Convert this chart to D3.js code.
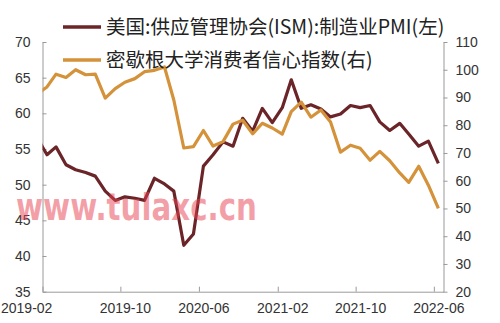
<!DOCTYPE html>
<html>
<head>
<meta charset="utf-8">
<script src="https://cdn.jsdelivr.net/npm/d3@7"></script>
<style>
  body { margin: 0; background: #fff; }
  svg { display: block; }
</style>
</head>
<body>
<svg id="chart"></svg>
<script>
// monthly values, Jan 2019 .. Jun 2022 (first month sits left of the axis start and gets clipped)
const firstMonth = '2019-01'
const ismPMI = [
  56.6, 54.2, 55.3, 52.8, 52.1, 51.7, 51.2, 49.1, 47.8, 48.3, 48.1, 47.8,
  50.9, 50.1, 49.1, 41.5, 43.1, 52.6, 54.2, 56.0, 55.4, 59.3, 57.5, 60.7,
  58.7, 60.8, 64.7, 60.7, 61.2, 60.6, 59.5, 59.9, 61.1, 60.8, 61.1, 58.8,
  57.6, 58.6, 57.1, 55.4, 56.1, 53.0
]
const michigan = [
  91.2, 93.8, 98.4, 97.2, 100.0, 98.2, 98.4, 89.8, 93.2, 95.5, 96.8, 99.3,
  99.8, 101.0, 89.1, 71.8, 72.3, 78.1, 72.5, 74.1, 80.4, 81.8, 76.9, 80.7,
  79.0, 76.8, 84.9, 88.3, 82.9, 85.5, 81.2, 70.3, 72.8, 71.7, 67.4, 70.6,
  67.2, 62.8, 59.4, 65.2, 58.4, 50.0
]
const xTickLabels = ['2019-02', '2019-10', '2020-06', '2021-02', '2021-10', '2022-06']
const leftTicks = [35, 40, 45, 50, 55, 60, 65, 70]
const rightTicks = [20, 30, 40, 50, 60, 70, 80, 90, 100, 110]
const seriesNames = ['美国:供应管理协会(ISM):制造业PMI(左)', '密歇根大学消费者信心指数(右)']

const width = 500
const height = 323
const margin = { top: 42, right: 56.5, bottom: 31.3, left: 42.5 }
const colors = ['#6b2529', '#d4923a']

const parseMonth = d3.timeParse('%Y-%m')
const start = parseMonth(firstMonth)
const dates = ismPMI.map((_, i) => d3.timeDay.offset(d3.timeMonth.offset(start, i), 14))

const svg = d3.select('#chart').attr('width', width).attr('height', height)

const x = d3
  .scaleTime()
  .domain([parseMonth('2019-02'), parseMonth('2022-07')])
  .range([margin.left, width - margin.right])
const yLeft = d3.scaleLinear().domain([35, 70]).range([height - margin.bottom, margin.top])
const yRight = d3.scaleLinear().domain([20, 110]).range([height - margin.bottom, margin.top])

svg
  .append('clipPath')
  .attr('id', 'plot-clip')
  .append('rect')
  .attr('x', margin.left)
  .attr('y', 0)
  .attr('width', width - margin.left - margin.right)
  .attr('height', height)

const tickFont = '14px "Liberation Sans", Arial, sans-serif'

// x axis
const xAxis = svg
  .append('g')
  .attr('transform', `translate(0,${height - margin.bottom})`)
  .call(
    d3
      .axisBottom(x)
      .tickValues(xTickLabels.map(parseMonth))
      .tickSizeInner(-5)
      .tickSizeOuter(0)
      .tickFormat(d3.timeFormat('%Y-%m'))
  )
xAxis.select('.domain').attr('stroke', '#9a9a9a')
xAxis.selectAll('.tick line').attr('stroke', '#9a9a9a')
xAxis
  .selectAll('.tick text')
  .attr('y', 11.5)
  .attr('dx', 4.5)
  .style('font', tickFont)
  .attr('fill', '#333')
xAxis
  .selectAll('.tick text')
  .filter((d, i) => i === 0)
  .attr('text-anchor', 'start')
  .attr('dx', -42)

// left axis
const leftAxis = svg
  .append('g')
  .attr('transform', `translate(${margin.left},0)`)
  .call(d3.axisLeft(yLeft).tickValues(leftTicks).tickSizeInner(-4).tickSizeOuter(0))
leftAxis.select('.domain').attr('stroke', '#9a9a9a')
leftAxis.selectAll('.tick line').attr('stroke', '#9a9a9a')
leftAxis
  .selectAll('.tick text')
  .attr('x', -12)
  .style('font', tickFont)
  .attr('fill', '#333')

// right axis
const rightAxis = svg
  .append('g')
  .attr('transform', `translate(${width - margin.right},0)`)
  .call(d3.axisRight(yRight).tickValues(rightTicks).tickSizeInner(4).tickSizeOuter(0))
rightAxis.select('.domain').attr('stroke', '#9a9a9a')
rightAxis.selectAll('.tick line').attr('stroke', '#9a9a9a')
rightAxis
  .selectAll('.tick text')
  .attr('x', 12)
  .style('font', tickFont)
  .attr('fill', '#333')

// lines
const plot = svg.append('g').attr('clip-path', 'url(#plot-clip)')

const pmiLine = d3
  .line()
  .x((d, i) => x(dates[i]))
  .y((d) => yLeft(d))
const sentimentLine = d3
  .line()
  .x((d, i) => x(dates[i]))
  .y((d) => yRight(d))

plot
  .append('path')
  .datum(ismPMI)
  .attr('d', pmiLine)
  .attr('fill', 'none')
  .attr('stroke', colors[0])
  .attr('stroke-width', 3.2)
  .attr('stroke-linejoin', 'round')

plot
  .append('path')
  .datum(michigan)
  .attr('d', sentimentLine)
  .attr('fill', 'none')
  .attr('stroke', colors[1])
  .attr('stroke-width', 3.2)
  .attr('stroke-linejoin', 'round')

// legend
const legend = svg
  .selectAll('.legend')
  .data(seriesNames)
  .enter()
  .append('g')
  .attr('class', 'legend')
  .attr('transform', (d, i) => `translate(63,${27 + i * 33})`)

legend
  .append('line')
  .attr('x1', 0)
  .attr('x2', 38)
  .attr('stroke', (d, i) => colors[i])
  .attr('stroke-width', 3.5)

legend
  .append('text')
  .attr('x', 43)
  .attr('dy', '0.35em')
  .style('font', '19.5px "Noto Sans CJK SC", "Noto Sans", sans-serif')
  .attr('fill', '#222')
  .text((d) => d)

// watermark
svg
  .append('text')
  .attr('x', 16)
  .attr('y', 220)
  .attr('textLength', 241)
  .attr('lengthAdjust', 'spacingAndGlyphs')
  .style('font', 'bold 38px "DejaVu Sans", sans-serif')
  .attr('fill', '#e8404f')
  .attr('fill-opacity', 0.5)
  .text('www.tulaxc.cn')
</script>
</body>
</html>
